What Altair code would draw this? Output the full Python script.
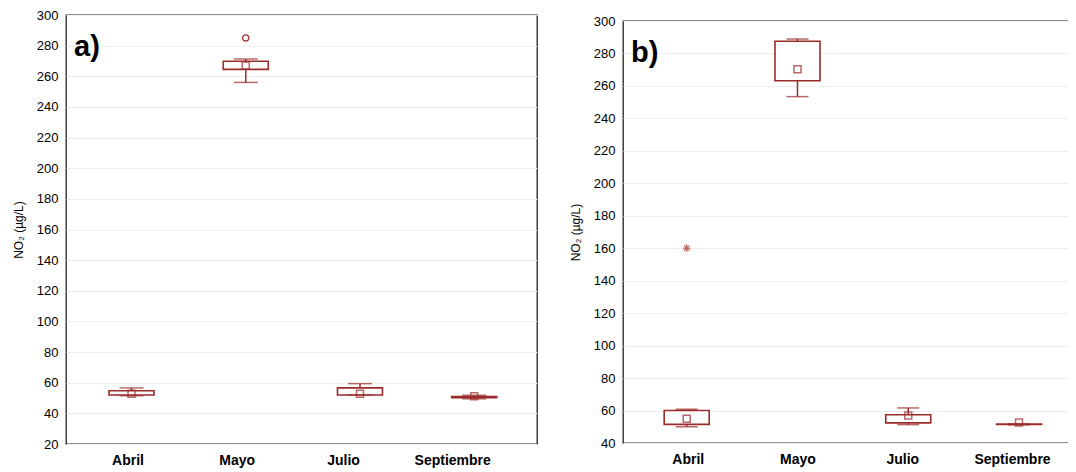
import altair as alt
import pandas as pd

months = ["Abril", "Mayo", "Julio", "Septiembre"]
month_pos = [0, 1, 2, 3]

# Panel a)
a_low = [51.5, 256.0, 52.0, 49.5]
a_q1 = [52.0, 264.5, 52.0, 50.2]
a_q3 = [54.8, 269.8, 56.6, 51.0]
a_high = [56.6, 271.3, 59.4, 51.8]
a_mean = [52.8, 267.0, 52.8, 51.2]
a_out_pos = [1]
a_out_val = [285.0]

# Panel b)
b_low = [50.0, 253.4, 51.3, 51.2]
b_q1 = [51.5, 263.2, 52.4, 51.4]
b_q3 = [60.0, 287.5, 57.4, 51.6]
b_high = [60.8, 288.9, 61.6, 51.8]
b_mean = [55.0, 270.2, 57.0, 52.6]
b_out_pos = [0]
b_out_val = [160.0]

RED = "#9B2B2B"
FONT = "Liberation Sans"
YTITLE = "NO\u2082 (\u00b5g/L)"
STAR = "M-1,0L1,0M0,-1L0,1M-0.7,-0.7L0.7,0.7M-0.7,0.7L0.7,-0.7"
LABEL_EXPR = "[" + ",".join("'" + m + "'" for m in months) + "][round(datum.value)]"

# per-label horizontal nudges of the category labels (layout, px)
A_SHIFT = [-4, -9, -17, -22]
B_SHIFT = [1, 0, -6, -7]


def label_offset(shifts):
    return {"condition": [{"test": "round(datum.value) == %d" % i, "value": s}
                          for i, s in enumerate(shifts)],
            "value": 0}


def panel(low, q1, q3, high, mean, out_p, out_v, ymin, width, height,
          xdom, label, cap, out_shape, out_color, out_size, shifts):
    df = pd.DataFrame({"pos": month_pos, "month": months, "low": low, "q1": q1,
                       "q3": q3, "high": high, "mean": mean})
    dout = pd.DataFrame({"pos": out_p, "val": out_v})
    xs = alt.Scale(domain=xdom, nice=False, zero=False)
    x = alt.X("pos:Q", scale=xs,
              axis=alt.Axis(title=None, values=month_pos, labelExpr=LABEL_EXPR,
                            labelAngle=0, labelFontWeight="bold",
                            labelFontSize=14, labelPadding=9, tickSize=0,
                            labelOffset=label_offset(shifts),
                            domain=False, grid=False, labelFlush=False,
                            labelOverlap=False))
    ys = alt.Scale(domain=[ymin, 300], nice=False, zero=False)
    yax = alt.Axis(title=YTITLE, values=list(range(ymin, 301, 20)),
                   labelFontSize=13, labelPadding=8, tickSize=0,
                   titleFontSize=12, titleFontWeight="normal",
                   titlePadding=11, grid=True, domain=False)
    base = alt.Chart(df)
    whisk = base.mark_rule(color=RED, strokeWidth=1.5).encode(
        x=x, y=alt.Y("low:Q", scale=ys, axis=yax), y2="high:Q")
    box = base.mark_bar(fill="white", stroke=RED, strokeWidth=1.6, size=45).encode(
        x=x, y=alt.Y("q1:Q", scale=ys, axis=yax), y2="q3:Q")
    cap_lo = base.mark_tick(color=RED, size=cap, thickness=1.5,
                            orient="horizontal").encode(
        x=x, y=alt.Y("low:Q", scale=ys, axis=yax))
    cap_hi = base.mark_tick(color=RED, size=cap, thickness=1.5,
                            orient="horizontal").encode(
        x=x, y=alt.Y("high:Q", scale=ys, axis=yax))
    mn = base.mark_point(shape="square", filled=False, size=49, color=RED,
                         strokeWidth=1.5).encode(
        x=x, y=alt.Y("mean:Q", scale=ys, axis=yax))
    outl = alt.Chart(dout).mark_point(shape=out_shape, filled=False, size=out_size,
                                      color=out_color, strokeWidth=1.2,
                                      opacity=1).encode(
        x=x, y=alt.Y("val:Q", scale=ys, axis=yax))
    txt = alt.Chart(pd.DataFrame({"t": [label]})).mark_text(
        font=FONT, fontSize=29, fontWeight="bold", align="left",
        baseline="middle", color="black").encode(
        text="t:N", x=alt.value(8), y=alt.value(32))
    return alt.layer(whisk, box, cap_lo, cap_hi, mn, outl, txt).properties(
        width=width, height=height)


pa = panel(a_low, a_q1, a_q3, a_high, a_mean, a_out_pos, a_out_val,
           20, 471, 429, [-0.53, 3.506], "a)", 24, "circle", RED, 40, A_SHIFT)
pb = panel(b_low, b_q1, b_q3, b_high, b_mean, b_out_pos, b_out_val,
           40, 446, 422, [-0.53, 3.406], "b)", 22, STAR, "#B86A6A", 60, B_SHIFT)

spacer = alt.Chart(pd.DataFrame({"v": [0]})).mark_point(opacity=0, size=0).encode(
    x=alt.value(0), y=alt.value(0)).properties(
    width=10, height=1, view=alt.ViewBackground(stroke=None))

right = alt.vconcat(spacer, pb, spacing=5, bounds="flush")

chart = alt.hconcat(pa, right, spacing=30).properties(
    padding={"left": 11, "top": 8, "right": -2, "bottom": 0},
    background="white"
).configure_view(
    stroke="#222222", strokeWidth=1.3
).configure_axis(
    labelFont=FONT, titleFont=FONT, labelColor="black", titleColor="black",
    gridColor="#eeeeee", gridWidth=1
)

chart.save("out.html", embed_options={"renderer": "svg", "actions": False})
